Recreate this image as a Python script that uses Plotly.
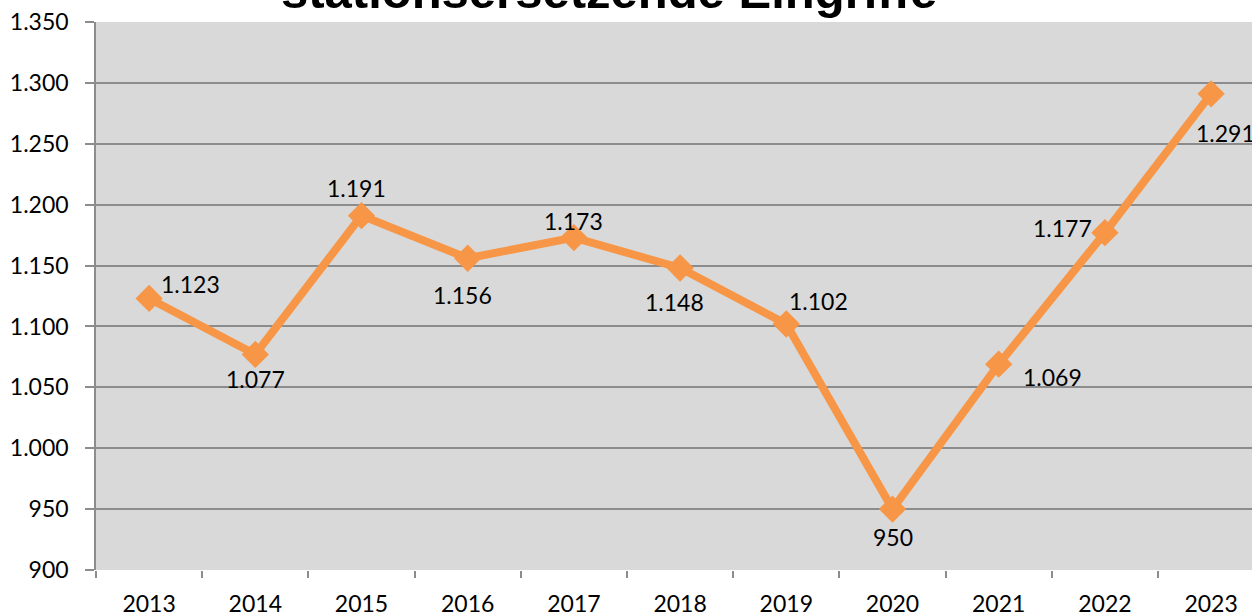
import plotly.graph_objects as go

# Yearly counts
years = [2013, 2014, 2015, 2016, 2017, 2018, 2019, 2020, 2021, 2022, 2023]
counts = [1123, 1077, 1191, 1156, 1173, 1148, 1102, 950, 1069, 1177, 1291]

# Per-label pixel offsets (dx, dy) of the value labels relative to their points
label_dx = [41, 0, -5, -5, 0, -6, 32, 0, 54, -42, 14]
label_dy = [-14, 25, -28, 37, -17, 34, -23, 28, 13, -5, 39]

title_text = "stationsersetzende Eingriffe"
orange = "#F79646"
grid = "#8c8c8c"
num_font = dict(family="Lato, Calibri, Carlito, sans-serif", size=23, color="#000000")

fig = go.Figure()
fig.add_trace(go.Scatter(
    x=years, y=counts, mode="lines+markers",
    line=dict(color=orange, width=8),
    marker=dict(symbol="diamond", size=21, color=orange),
    hoverinfo="skip", showlegend=False, cliponaxis=False,
))


def fmt(v):
    return f"{v:,}".replace(",", ".")


for yr, v, dx, dy in zip(years, counts, label_dx, label_dy):
    fig.add_annotation(
        x=yr, y=v, xref="x", yref="y", text=fmt(v), showarrow=False,
        xshift=dx, yshift=-dy, font=num_font,
        xanchor="center", yanchor="middle",
    )

fig.add_annotation(
    x=0.4438, y=1.0566, xref="paper", yref="paper", text=f"<b>{title_text}</b>",
    showarrow=False, xanchor="center", yanchor="middle",
    font=dict(family="Liberation Sans, Arial, sans-serif", size=49, color="#000000"),
)

fig.update_layout(
    width=1252, height=614,
    margin=dict(l=96, r=0, t=22, b=44),
    paper_bgcolor="#ffffff", plot_bgcolor="#d9d9d9",
    separators=",.",
    showlegend=False,
)
fig.update_xaxes(
    type="linear", range=[years[0] - 0.5, years[0] + 10.385],
    tickmode="array", tickvals=years, ticktext=[str(y) for y in years],
    ticks="outside", ticklen=0, tickcolor=grid,
    minor=dict(tick0=years[0] - 0.5, dtick=1, ticks="outside", ticklen=7,
               tickcolor=grid, tickwidth=1.5, showgrid=False),
    showgrid=False, showline=False, zeroline=False, automargin=False,
    tickfont=num_font, ticklabelstandoff=13,
)
fig.update_yaxes(
    range=[900, 1350], dtick=50, tickformat=",d",
    ticks="outside", ticklen=9, tickcolor=grid, tickwidth=1.5,
    showgrid=True, gridcolor=grid, gridwidth=1.5,
    showline=True, linecolor=grid, linewidth=1.5, zeroline=False, automargin=False,
    tickfont=num_font, ticklabelstandoff=12,
)

fig.write_html("out.html")
